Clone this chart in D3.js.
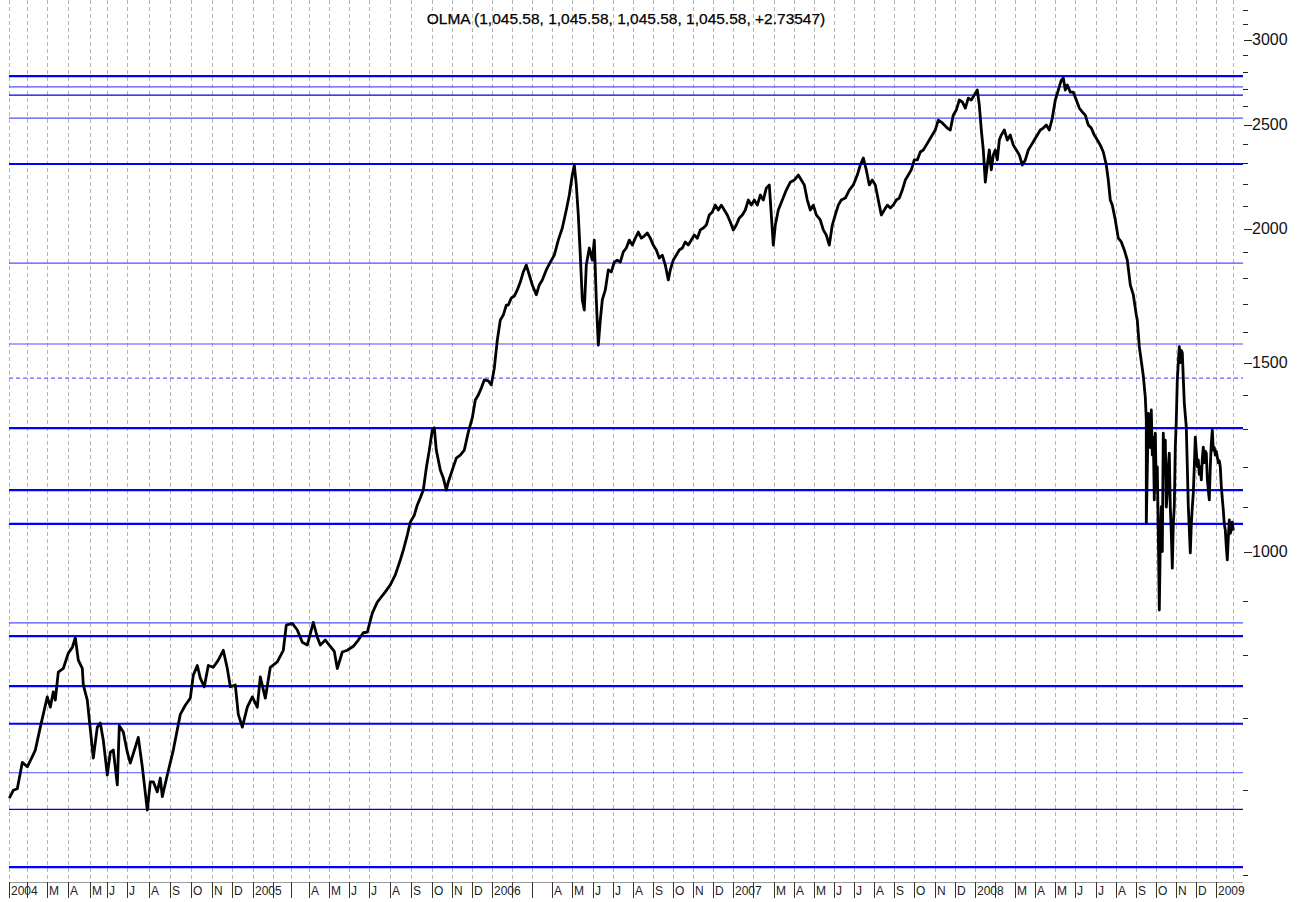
<!DOCTYPE html>
<html>
<head>
<meta charset="utf-8">
<script src="https://cdn.jsdelivr.net/npm/d3@7"></script>
<style>
    body { margin: 0; background: #fff; }
    svg { display: block; font-family: "Liberation Sans", Arial, sans-serif; }
</style>
</head>
<body>
<div id="chart"></div>
<script>
const title = 'OLMA (1,045.58, 1,045.58, 1,045.58, 1,045.58, +2.73547)';

// trading session number (0 = first session of 2004) and close
const sessions = [
    0, 4, 8, 13, 18, 23, 26, 31, 38, 41, 44, 46, 49, 54, 59, 63, 66, 69, 73, 74, 78, 80, 84, 88, 91, 94, 98, 101, 104, 108, 110,
    114, 118, 121, 126, 129, 133, 138, 141, 144, 148, 151, 153, 158, 164, 171, 176, 181, 184, 188, 191, 195, 199, 204, 209, 214,
    218, 221, 226, 229, 233, 238, 243, 248, 251, 256, 261, 268, 274, 277, 283, 288, 293, 298, 304, 308, 311, 316, 321, 325, 328,
    333, 338, 344, 349, 354, 358, 363, 368,
    372, 376, 381, 386, 391, 394, 398, 401, 405, 408, 411, 414, 417, 420, 423, 425, 427, 429, 431, 434, 437, 439, 443, 447, 451,
    455, 459, 463, 466, 469, 472, 475, 479, 482, 485, 488, 491, 494, 497, 499, 502, 505, 508, 511, 514, 517, 520, 523, 527, 530,
    533, 537, 541, 545, 549, 553, 557, 560, 563, 565, 567, 569, 571, 573, 575, 577, 580, 583, 585, 587, 589, 591, 593, 596, 599,
    602, 605, 608, 611, 614, 617, 620, 623, 626, 629, 632, 635, 638, 641, 644, 647, 650, 653, 656, 659, 661, 664, 667, 670, 673,
    676, 679, 682, 685, 688, 691, 694, 697, 700, 703, 706, 709, 712, 715, 718, 721, 724, 727, 730, 733, 736, 739, 742, 745, 748,
    751, 754, 757, 760, 762, 764, 766, 769, 773, 777, 781, 785, 789, 792, 795, 798, 801, 804, 807, 811, 814, 817, 820, 823, 826,
    829, 832, 836, 840, 844, 848, 851, 854, 857, 860, 863, 866, 869, 872, 875, 878, 881, 884, 887, 890, 893, 896, 899, 902, 905,
    908, 911, 914, 917, 920, 923, 926, 929, 932, 935, 938, 941, 944, 947, 950, 953, 956, 959, 962, 965, 968, 970, 972, 974, 976,
    978, 980, 982, 984, 986, 988, 990, 992, 995, 998, 1001, 1004, 1007, 1010, 1013, 1016, 1019, 1022, 1025, 1028, 1031, 1034,
    1037, 1040, 1043, 1046, 1049, 1052, 1054, 1056, 1058, 1061, 1064, 1067, 1070, 1073, 1076, 1079, 1082, 1085, 1088, 1091,
    1094, 1097, 1099, 1101, 1103, 1106, 1109, 1112, 1115, 1118, 1121, 1124, 1127, 1128, 1130,
    1134, 1136, 1137, 1137, 1138, 1139, 1140, 1141, 1142, 1143, 1144, 1145, 1146, 1147, 1148, 1149, 1150, 1151, 1152, 1153,
    1154, 1155, 1156, 1157, 1158, 1159, 1160, 1161, 1162, 1163, 1164, 1165, 1166, 1167, 1168, 1169, 1170, 1171, 1172, 1173,
    1174, 1175, 1176, 1177, 1178, 1179, 1180, 1181, 1182, 1183, 1184, 1185, 1186, 1187, 1188, 1189, 1190, 1191, 1192, 1193,
    1194, 1195, 1196, 1197, 1198, 1199, 1200, 1201, 1202, 1203, 1204, 1205, 1206, 1207, 1208, 1209, 1210, 1211, 1212, 1213,
    1214, 1215, 1216, 1217, 1218, 1219, 1220, 1221, 1222, 1223, 1224
];
const closes = [
    589, 599, 601, 636, 630, 644, 653, 686, 732, 716, 740, 727, 772, 778, 804, 814, 831, 792, 778, 751, 727, 697, 642, 686, 692,
    667, 619, 650, 653, 606, 688, 679, 650, 635, 657, 671, 630, 574, 610, 610, 597, 615, 591, 619, 653, 705, 719, 730, 767, 783,
    762, 748, 783, 780, 792, 809, 778, 748, 751, 705, 686, 716, 732, 716, 764, 730, 780, 789, 809, 854, 857, 845, 823, 818, 859,
    832, 818, 827, 816, 807, 778, 806, 809, 816, 827, 840, 841, 876, 897,
    907, 917, 931, 951, 982, 1003, 1036, 1065, 1081, 1105, 1122, 1141, 1196, 1243, 1298, 1304, 1243, 1217, 1191, 1171, 1141,
    1161, 1191, 1222, 1230, 1243, 1292, 1332, 1384, 1399, 1420, 1445, 1442, 1430, 1482, 1574, 1643, 1661, 1697, 1697, 1723,
    1730, 1753, 1783, 1822, 1849, 1810, 1772, 1735, 1772, 1791, 1830, 1861, 1889, 1951, 2002, 2081, 2149, 2243, 2292, 2196,
    2059, 1889, 1716, 1679, 1849, 1918, 1869, 1951, 1716, 1557, 1643, 1716, 1753, 1830, 1822, 1861, 1869, 1861, 1902, 1918,
    1951, 1930, 1959, 1985, 1959, 1968, 1981, 1959, 1930, 1910, 1877, 1889, 1849, 1791, 1830, 1869, 1889, 1910, 1918, 1943,
    1930, 1951, 1972, 1959, 1994, 2002, 2015, 2059, 2072, 2103, 2081, 2103, 2081, 2059, 2028, 1994, 2015, 2046, 2059, 2081,
    2126, 2103, 2126, 2103, 2149, 2126, 2181, 2196, 2059, 1930, 2015, 2081, 2126, 2172, 2209, 2219, 2243, 2219, 2196, 2126,
    2081, 2103, 2059, 2037, 1994, 1972, 1930, 2015, 2059, 2103, 2126, 2135, 2172, 2196, 2243, 2292, 2327, 2268, 2196, 2219,
    2196, 2126, 2059, 2081, 2103, 2090, 2103, 2126, 2135, 2172, 2219, 2243, 2268, 2317, 2317, 2357, 2367, 2392, 2418, 2444,
    2471, 2524, 2513, 2497, 2481, 2471, 2551, 2579, 2635, 2624, 2590, 2646, 2635, 2663, 2692, 2607, 2471, 2367, 2209, 2292,
    2367, 2268, 2342, 2367, 2317, 2418, 2444, 2471, 2418, 2444, 2392, 2367, 2342, 2292, 2317, 2367, 2392, 2418, 2444, 2471,
    2481, 2497, 2471, 2535, 2635, 2692, 2750, 2762, 2692, 2721, 2680, 2680, 2635, 2590, 2568, 2551, 2497, 2481, 2444, 2418,
    2392, 2357, 2292, 2219, 2126, 2103, 2037, 1959, 1943, 1910, 1869, 1772, 1735, 1661, 1643, 1552,
    1458, 1392, 1326, 1063, 1191, 1345, 1298, 1250, 1355, 1230, 1278, 1117, 1289, 1141, 1199, 1040, 882, 1020, 1101, 1000,
    1289, 1180, 1270, 1100, 1134, 1200, 1235, 1100, 1040, 965, 1060, 1101, 1250, 1326, 1445, 1500, 1552, 1500, 1540, 1532,
    1450, 1375, 1340, 1306, 1200, 1101, 1050, 997, 1060, 1100, 1134, 1200, 1278, 1240, 1200, 1217, 1180, 1200, 1166, 1220,
    1251, 1210, 1240, 1235, 1170, 1140, 1117, 1200, 1260, 1298, 1243, 1250, 1230, 1240, 1225, 1210, 1215, 1199, 1150, 1120,
    1093, 1060, 1047, 1010, 982, 1030, 1070, 1040, 1047, 1065, 1046
];

// first session of each month and its axis label
const monthSessions = [
    0, 18, 38, 59, 81, 98, 118, 140, 161, 182, 203, 223,
    244, 264, 282, 300, 320, 340, 360, 381, 402, 423, 443, 463,
    483, 503, 523, 543, 563, 584, 604, 624, 644, 664, 684, 704,
    724, 744, 765, 785, 805, 825, 845, 865, 885, 905, 926, 946,
    966, 986, 1006, 1026, 1046, 1066, 1087, 1107, 1127, 1147, 1167, 1187,
    1207
];
const monthLabels = [
    '2004', '', 'M', 'A', 'M', 'J', 'J', 'A', 'S', 'O', 'N', 'D',
    '2005', '', '', 'A', 'M', 'J', 'J', 'A', 'S', 'O', 'N', 'D',
    '2006', '', '', 'A', 'M', 'J', 'J', 'A', 'S', 'O', 'N', 'D',
    '2007', '', 'M', 'A', 'M', 'J', 'J', 'A', 'S', 'O', 'N', 'D',
    '2008', '', 'M', 'A', 'M', 'J', 'J', 'A', 'S', 'O', 'N', 'D',
    '2009'
];
const lastSession = 1224;

// horizontal support / resistance levels
const levelValues = [2774, 2710, 2663, 2535, 2297, 1857, 1561, 1451, 1303, 1141, 1061, 858, 834, 749, 691, 622, 575, 508];
const levelKinds = ['major', 'minor', 'dark', 'minor', 'major', 'minor', 'minor', 'dashed', 'major', 'major', 'major',
    'minor', 'major', 'major', 'major', 'minor', 'dark', 'major'];

const priceLabels = [1000, 1500, 2000, 2500, 3000];
const priceTicks = d3.range(500, 3201, 100);

const width = 1303, height = 902;
const plotLeft = 9, plotRight = 1243;
const axisTop = 882;

const svg = d3.select('#chart').append('svg')
    .attr('width', width)
    .attr('height', height);

const x = d3.scaleLinear().domain([0, lastSession]).range([9.3, 1233.3]);
const y = d3.scaleLog().domain([500, 3200]).range([874.5, 9.5]);

// monthly dashed grid
svg.append('g')
    .selectAll('line')
    .data(monthSessions.concat([lastSession]))
    .join('line')
    .attr('x1', d => Math.round(x(d)) + 0.5)
    .attr('x2', d => Math.round(x(d)) + 0.5)
    .attr('y1', 0)
    .attr('y2', axisTop)
    .attr('stroke', '#b4b4b4')
    .attr('stroke-dasharray', '4,3');

// level lines
const levelStyle = {
    major: { color: '#0000ff', w: 2.2, dash: null },
    minor: { color: '#5050ff', w: 1.2, dash: null },
    dark: { color: '#0000e6', w: 1.4, dash: null },
    dashed: { color: '#6060ff', w: 1.2, dash: '4,3' }
};
svg.append('g')
    .selectAll('line')
    .data(levelValues.map((v, i) => ({ v, kind: levelKinds[i] })))
    .join('line')
    .attr('x1', plotLeft)
    .attr('x2', plotRight)
    .attr('y1', d => y(d.v))
    .attr('y2', d => y(d.v))
    .attr('stroke', d => levelStyle[d.kind].color)
    .attr('stroke-width', d => levelStyle[d.kind].w)
    .attr('stroke-dasharray', d => levelStyle[d.kind].dash);

// price line
const line = d3.line()
    .x((d, i) => x(sessions[i]))
    .y(d => y(d));

svg.append('path')
    .datum(closes)
    .attr('fill', 'none')
    .attr('stroke', '#000')
    .attr('stroke-width', 2.8)
    .attr('stroke-linejoin', 'round')
    .attr('d', line);

// right price axis
const yAxis = svg.append('g');
yAxis.selectAll('line.minor')
    .data(priceTicks.filter(d => !priceLabels.includes(d)))
    .join('line')
    .attr('class', 'minor')
    .attr('x1', 1243).attr('x2', 1248)
    .attr('y1', d => Math.round(y(d)) + 0.5)
    .attr('y2', d => Math.round(y(d)) + 0.5)
    .attr('stroke', '#222');
yAxis.selectAll('line.major')
    .data(priceLabels)
    .join('line')
    .attr('class', 'major')
    .attr('x1', 1244).attr('x2', 1252)
    .attr('y1', d => Math.round(y(d)) + 0.5)
    .attr('y2', d => Math.round(y(d)) + 0.5)
    .attr('stroke', '#222');
yAxis.selectAll('text')
    .data(priceLabels)
    .join('text')
    .attr('x', 1252)
    .attr('y', d => y(d))
    .attr('dy', '0.36em')
    .attr('font-size', 16)
    .attr('fill', '#111')
    .text(d => d);

// title
svg.append('text')
    .attr('x', 626)
    .attr('y', 24)
    .attr('text-anchor', 'middle')
    .attr('font-size', 15.5)
    .attr('fill', '#000')
    .attr('stroke', '#000')
    .attr('stroke-width', 0.25)
    .text(title);

// bottom month axis
svg.append('line')
    .attr('x1', plotLeft).attr('x2', plotRight)
    .attr('y1', axisTop + 0.5).attr('y2', axisTop + 0.5)
    .attr('stroke', '#9a9a9a');

const months = svg.append('g');
months.selectAll('line')
    .data(monthSessions)
    .join('line')
    .attr('x1', d => Math.round(x(d)) + 0.5)
    .attr('x2', d => Math.round(x(d)) + 0.5)
    .attr('y1', axisTop)
    .attr('y2', 898)
    .attr('stroke', '#333');
months.selectAll('text')
    .data(monthSessions.map((s, i) => ({ s, label: monthLabels[i] })))
    .join('text')
    .attr('x', d => Math.round(x(d.s)) + 2)
    .attr('y', 895)
    .attr('font-size', 12)
    .attr('fill', '#222')
    .text(d => d.label);
</script>
</body>
</html>
